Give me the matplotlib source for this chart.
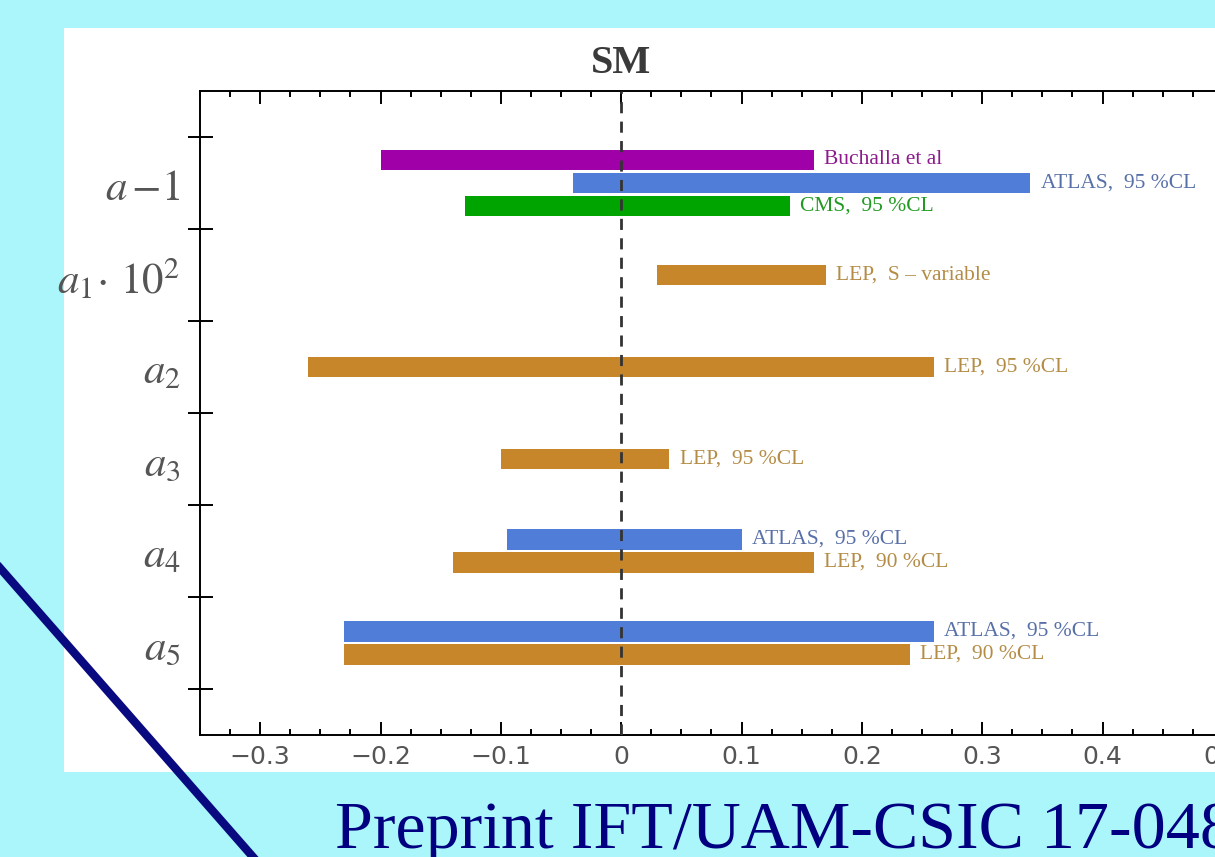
import numpy as np
import matplotlib
matplotlib.use("Agg")
import matplotlib.pyplot as plt
from matplotlib.lines import Line2D
from matplotlib.patches import Rectangle
from matplotlib.ticker import MultipleLocator, FixedLocator, FixedFormatter

plt.rcParams['mathtext.fontset'] = 'stix'

# anomalous couplings and their allowed intervals
couplings = [r"$a\,{-1}$", r"$a_1\!\cdot\,10^2$", r"$a_2$", r"$a_3$", r"$a_4$", r"$a_5$"]

bar_coupling = [0, 0, 0, 1, 2, 3, 4, 4, 5, 5]
bar_low = [-0.20, -0.04, -0.13, 0.03, -0.26, -0.10, -0.095, -0.14, -0.23, -0.23]
bar_high = [0.16, 0.34, 0.14, 0.17, 0.26, 0.04, 0.10, 0.16, 0.26, 0.24]
bar_source = ["Buchalla", "ATLAS", "CMS", "LEP", "LEP", "LEP", "ATLAS", "LEP", "ATLAS", "LEP"]
bar_text = ["Buchalla et al", "ATLAS,  95 %CL", "CMS,  95 %CL", "LEP,  S \u2013 variable",
            "LEP,  95 %CL", "LEP,  95 %CL", "ATLAS,  95 %CL", "LEP,  90 %CL",
            "ATLAS,  95 %CL", "LEP,  90 %CL"]

bar_colors = {"Buchalla": "#a000a8", "ATLAS": "#4f7dd8", "CMS": "#00a400", "LEP": "#c8862b"}
text_colors = {"Buchalla": "#8c1a8c", "ATLAS": "#5870a8", "CMS": "#239a23", "LEP": "#b48c46"}

fig = plt.figure(figsize=(12.15, 8.57), dpi=100, facecolor="#abf6fb")
W, H = 1215.0, 857.0

# white slide panel
fig.add_artist(Rectangle((64 / W, 1 - 772 / H), 1 - 64 / W, (772 - 28) / H,
                         transform=fig.transFigure, facecolor="white",
                         edgecolor="none", zorder=0))

ax = fig.add_axes([200 / W, 1 - 735 / H, (1283 - 200) / W, (735 - 91) / H])
ax.set_zorder(1)
ax.patch.set_alpha(0)

# slot bars within each coupling row
counts = np.bincount(bar_coupling)
slot = {}
for i, c in enumerate(bar_coupling):
    k = slot.get(c, 0)
    slot[c] = k + 1
    y = c + 1 + (k - (counts[c] - 1) / 2) * 0.25
    src = bar_source[i]
    ax.barh(y, bar_high[i] - bar_low[i], left=bar_low[i], height=0.22,
            color=bar_colors[src], zorder=2)
    ax.annotate(bar_text[i], (bar_high[i], y), xytext=(7.5, 0),
                textcoords="offset points", va="center", ha="left",
                fontsize=15.5, family="Liberation Serif", color=text_colors[src])

ax.axvline(0, color="#333333", lw=2, ls=(0, (4, 3)), zorder=3)

ax.set_xlim(-0.35, 0.55)
ax.set_ylim(7, 0)

ax.xaxis.set_minor_locator(MultipleLocator(0.025))
ax.set_xticks(np.arange(-0.3, 0.51, 0.1))
ax.set_xticklabels(["\u22120.3", "\u22120.2", "\u22120.1", "0", "0.1", "0.2", "0.3", "0.4", "0.5"])
ax.tick_params(axis="x", which="both", direction="in", top=True, bottom=True, width=1.4)
ax.tick_params(axis="x", which="major", length=9.5, pad=7)
ax.tick_params(axis="x", which="minor", length=4.5)
for lab in ax.get_xticklabels():
    lab.set_family(["Liberation Sans Narrow", "DejaVu Sans"])
    lab.set_fontsize(18)
    lab.set_color("#555555")

ax.yaxis.set_major_locator(FixedLocator(np.arange(0.5, 7, 1)))
ax.yaxis.set_major_formatter(FixedFormatter([""] * 7))
ax.yaxis.set_minor_locator(FixedLocator(np.arange(1, 7)))
ax.yaxis.set_minor_formatter(FixedFormatter(couplings))
ax.tick_params(axis="y", which="major", direction="inout", length=18, width=1.4)
ax.tick_params(axis="y", which="minor", length=0, pad=14, labelsize=31, labelcolor="#555555")

for s in ax.spines.values():
    s.set_linewidth(1.4)

ax.text(0, -0.1, "SM", ha="center", va="bottom", fontsize=29, fontweight="bold",
        family="Liberation Serif", color="#3a3a3a")

# decorative slide line and preprint tag
fig.add_artist(Line2D([0, 253 / W], [1 - 568 / H, 0], transform=fig.transFigure,
                      color="#0a0a80", lw=6, zorder=10))
fig.text(335 / W, 9 / H, "Preprint IFT/UAM-CSIC 17-048", fontsize=49,
         family="Liberation Serif", color="#000080", va="baseline", ha="left")

fig.savefig("out.png", dpi=100, facecolor=fig.get_facecolor())
